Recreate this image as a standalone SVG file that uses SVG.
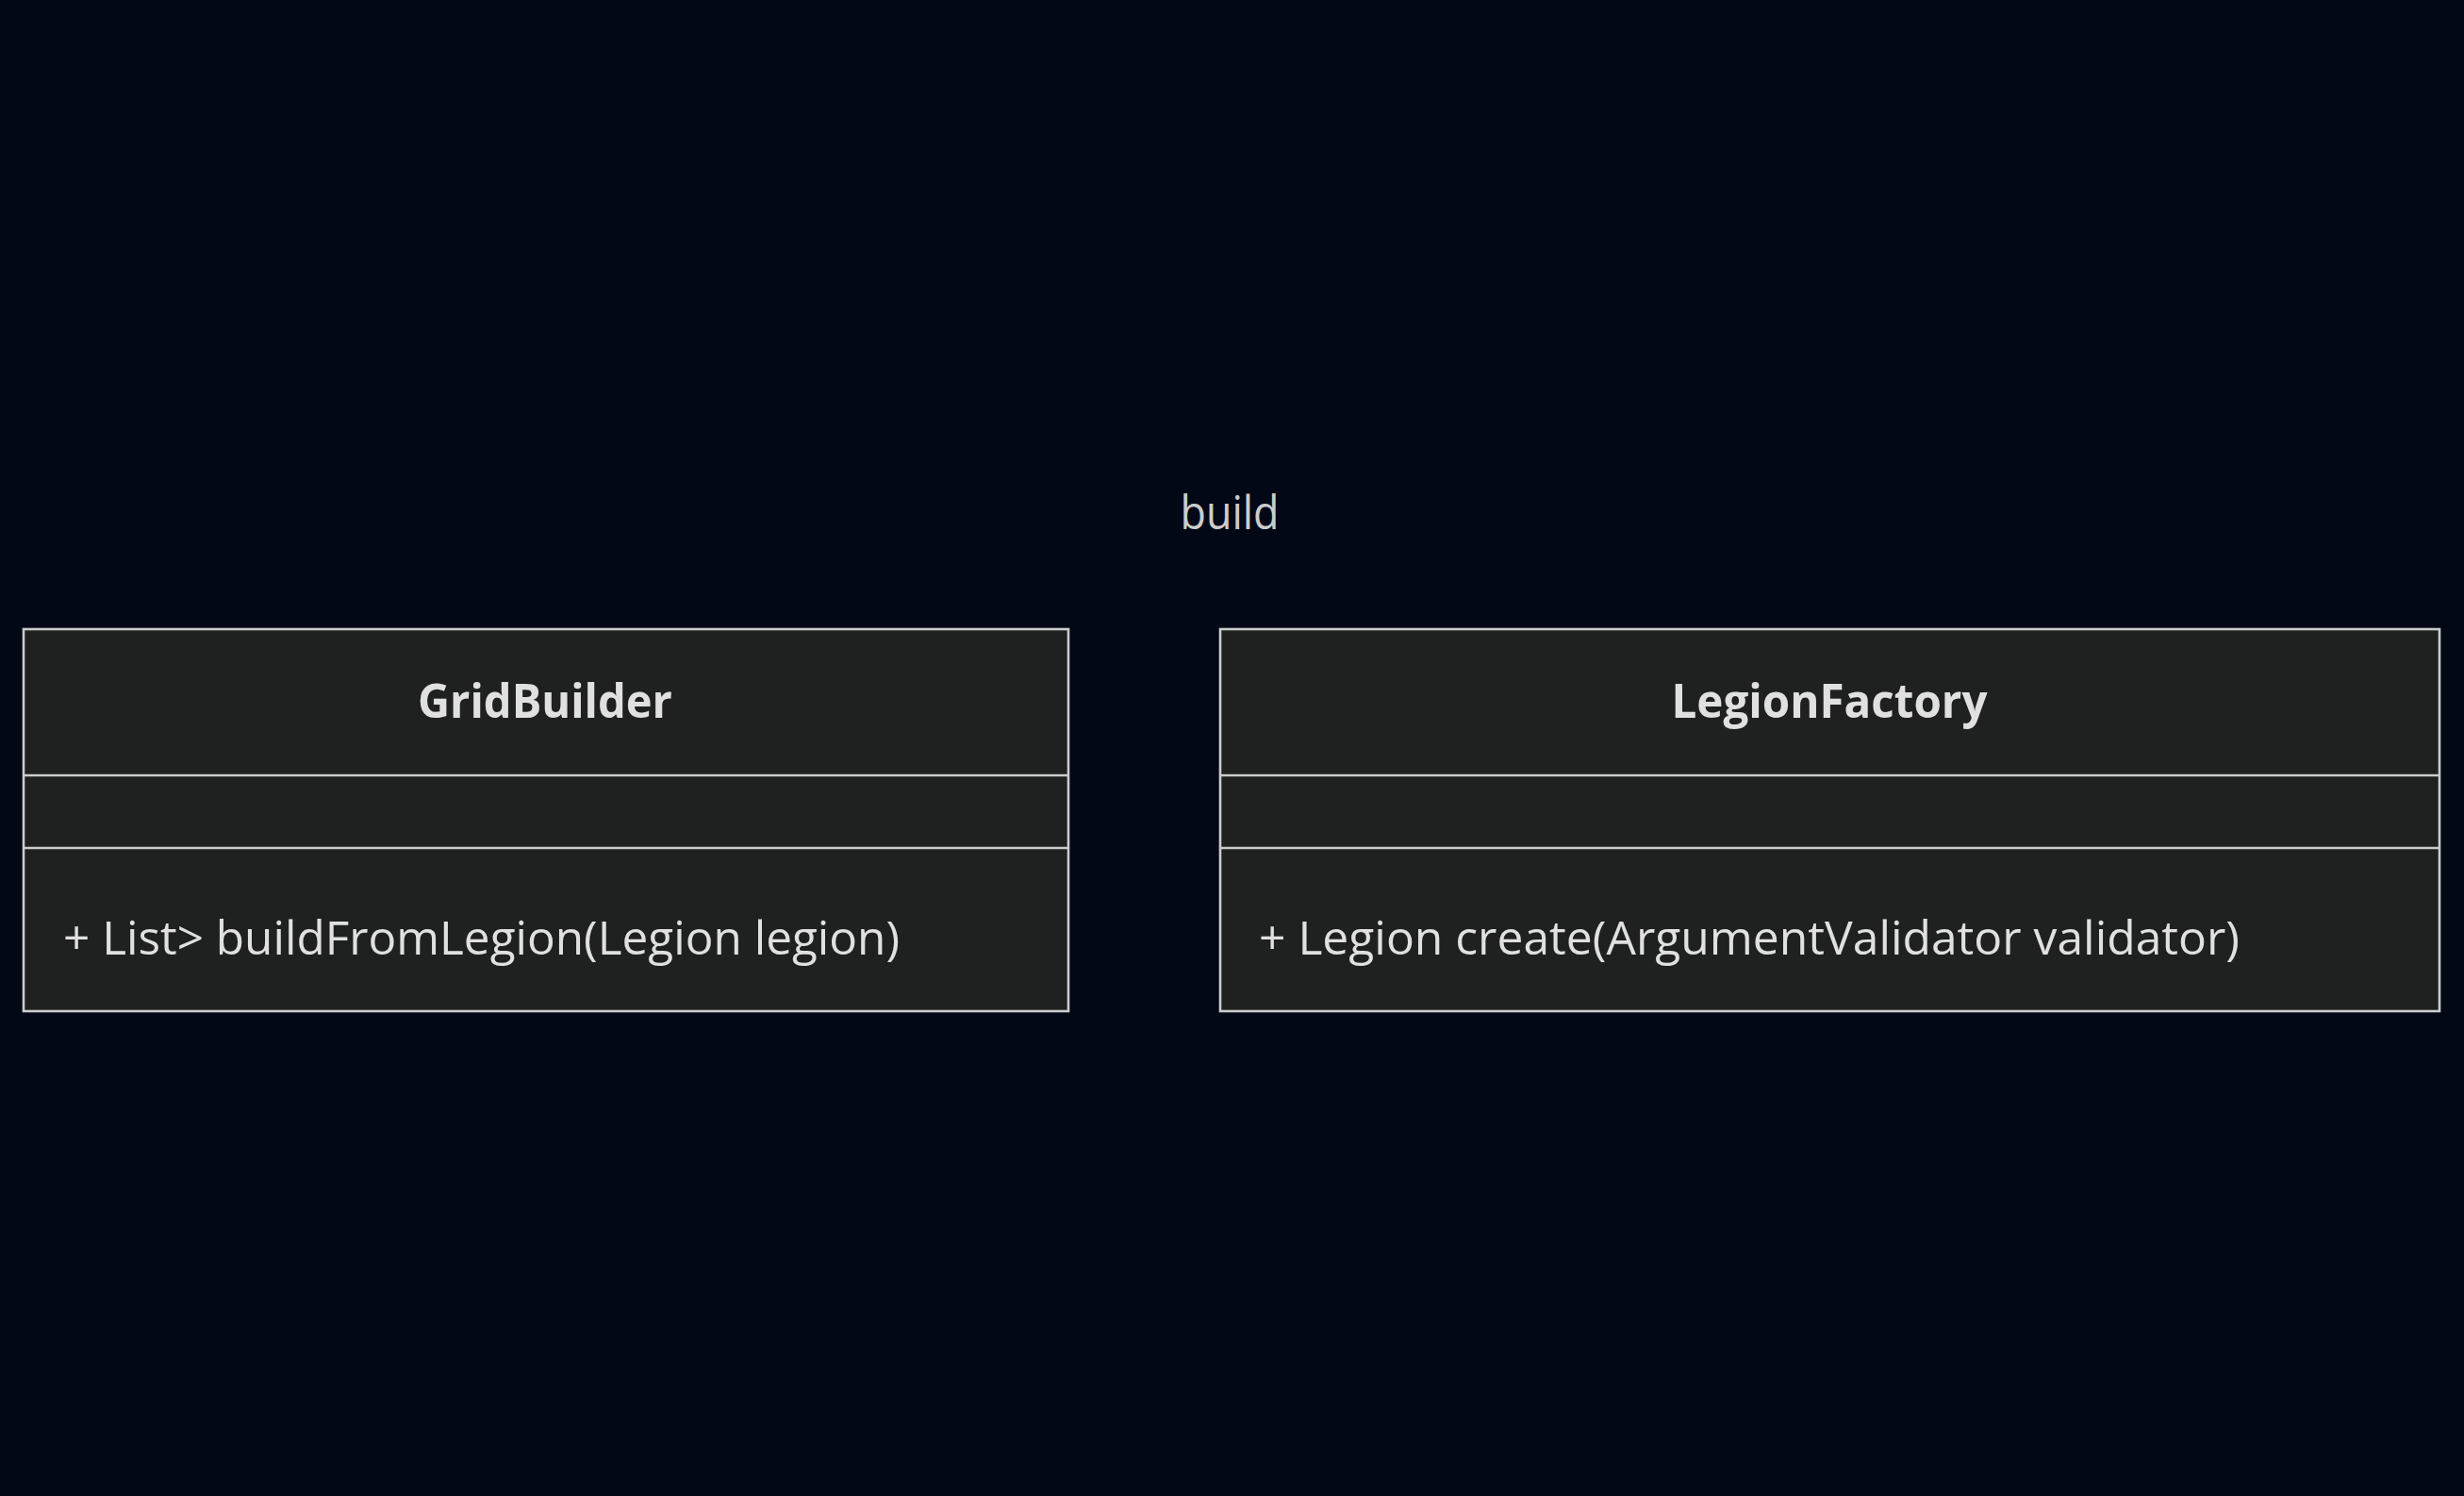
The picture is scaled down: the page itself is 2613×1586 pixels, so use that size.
<svg xmlns="http://www.w3.org/2000/svg" width="2613" height="1586" viewBox="0 0 2613 1586">
<style>
.box{fill:#1f2020;stroke:#cccccc;stroke-width:2.6}
.div{stroke:#cccccc;stroke-width:2.6}
.title{font-family:"Open Sans","Noto Sans",sans-serif;font-weight:bold;font-size:50px;fill:#e0e0e0;text-anchor:middle}
.member{font-family:"Open Sans","Noto Sans",sans-serif;font-size:50px;fill:#e0e0e0}
.label{font-family:"Open Sans","Noto Sans",sans-serif;font-size:50px;fill:#cccccc;text-anchor:middle}
</style>
<rect width="2613" height="1586" fill="#020816"/>
<g id="namespace-build">
<text class="label" x="1304" y="561" textLength="105" lengthAdjust="spacingAndGlyphs">build</text>
</g>
<g id="GridBuilder">
<rect class="box" x="25" y="667" width="1108" height="405"/>
<line class="div" x1="25" y1="822" x2="1133" y2="822"/>
<line class="div" x1="25" y1="899" x2="1133" y2="899"/>
<text class="title" x="578" y="761" textLength="270" lengthAdjust="spacingAndGlyphs">GridBuilder</text>
<text class="member" x="67" y="1012" textLength="887" lengthAdjust="spacingAndGlyphs">+ List&gt; buildFromLegion(Legion legion)</text>
</g>
<g id="LegionFactory">
<rect class="box" x="1294" y="667" width="1293" height="405"/>
<line class="div" x1="1294" y1="822" x2="2587" y2="822"/>
<line class="div" x1="1294" y1="899" x2="2587" y2="899"/>
<text class="title" x="1940" y="761" textLength="335" lengthAdjust="spacingAndGlyphs">LegionFactory</text>
<text class="member" x="1335" y="1012" textLength="1040" lengthAdjust="spacingAndGlyphs">+ Legion create(ArgumentValidator validator)</text>
</g>
<g id="connectors"></g>
</svg>
